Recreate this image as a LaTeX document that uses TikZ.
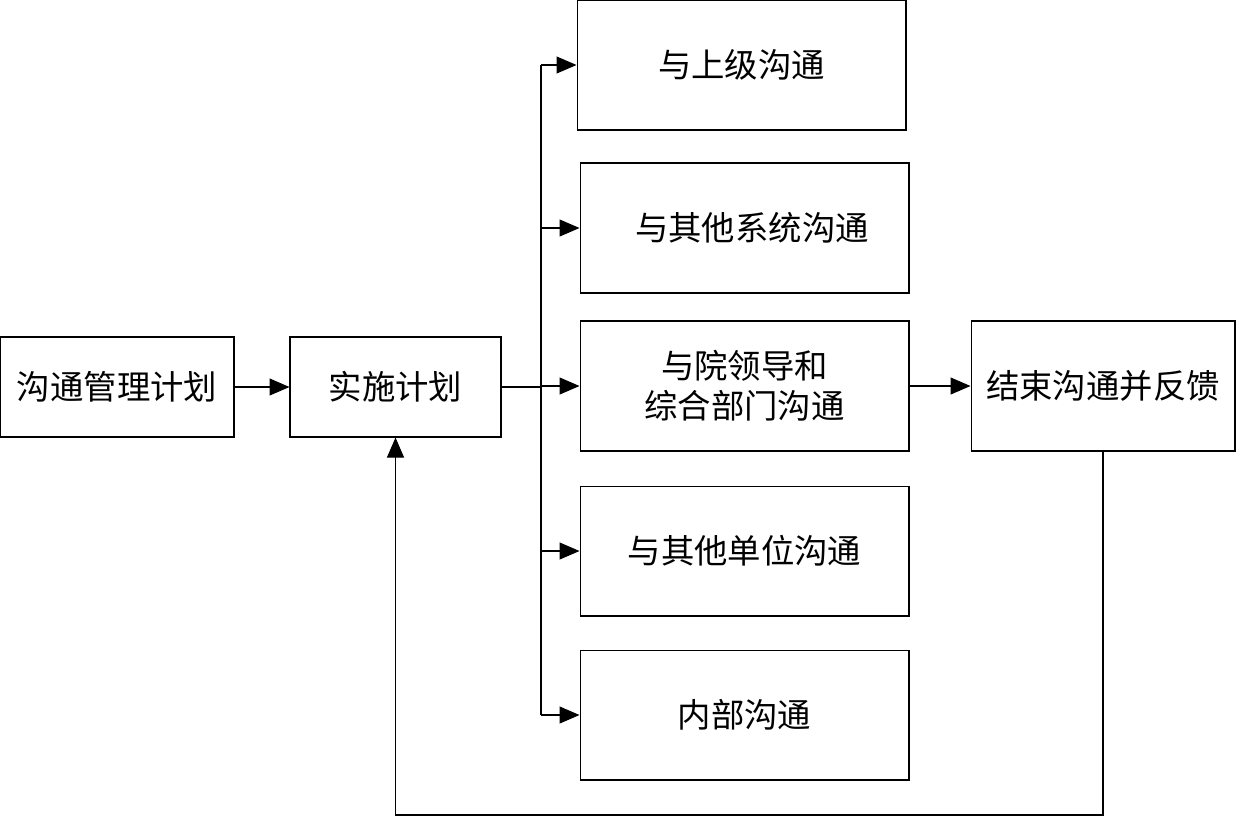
\documentclass[tikz,border=0pt]{standalone}
\usepackage{fontspec}
\setmainfont{Noto Sans CJK SC}
\usetikzlibrary{arrows.meta}
\begin{document}
\begin{tikzpicture}[x=0.02cm, y=-0.02cm,
  box/.style={draw, rectangle, line width=0.6pt, align=center, font=\fontsize{19}{22.8}\selectfont},
  arr/.style={-{Triangle[length=0.4cm, width=0.34cm]}, line width=0.6pt}]
\useasboundingbox (0,0) rectangle (1236,816);
\node[box, minimum width=4.68cm, minimum height=2cm] (plan) at (117,387) {沟通管理计划};
\node[box, minimum width=4.22cm, minimum height=2cm] (exec) at (395.5,387) {实施计划};
\node[box, minimum width=6.58cm, minimum height=2.6cm] (upper) at (741.5,65) {与上级沟通};
\node[box, minimum width=6.58cm, minimum height=2.6cm] (system) at (744.5,228) {\hspace{0.3cm}与其他系统沟通};
\node[box, minimum width=6.58cm, minimum height=2.6cm] (leader) at (744.5,386) {与院领导和\\综合部门沟通};
\node[box, minimum width=6.58cm, minimum height=2.6cm] (unit) at (744.5,551) {与其他单位沟通};
\node[box, minimum width=6.58cm, minimum height=2.6cm] (inner) at (744.5,715) {内部沟通};
\node[box, minimum width=5.28cm, minimum height=2.6cm] (finish) at (1103,386) {结束沟通并反馈};

\coordinate (bus) at (541,387);
\coordinate (low) at (0,815);

\draw[arr] (plan) -- (exec);
\draw[line width=0.6pt] (exec.east) -- (bus);
\draw[line width=0.6pt] (bus |- upper.west) -- (bus |- inner.west);
\draw[arr] (bus |- upper.west) -- (upper.west);
\draw[arr] (bus |- system.west) -- (system.west);
\draw[arr] (bus |- leader.west) -- (leader.west);
\draw[arr] (bus |- unit.west) -- (unit.west);
\draw[arr] (bus |- inner.west) -- (inner.west);
\draw[arr] (leader) -- (finish);
\draw[arr] (finish.south) -- (finish.south |- low) -| (exec.south);
\end{tikzpicture}
\end{document}
